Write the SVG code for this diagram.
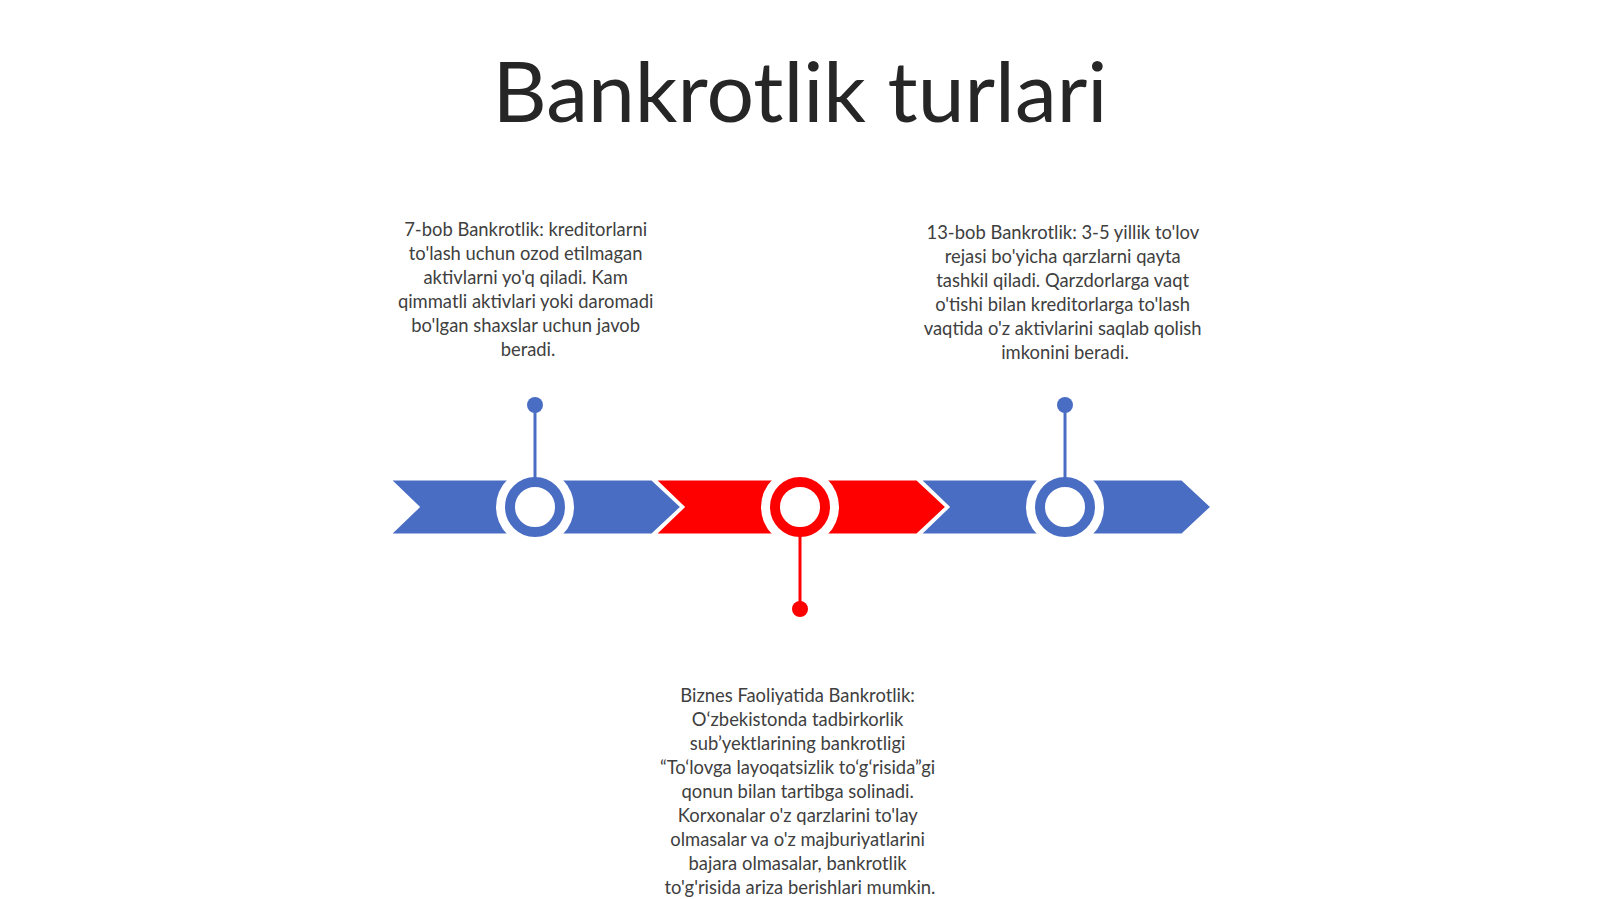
<svg xmlns="http://www.w3.org/2000/svg" width="1600" height="899" viewBox="0 0 1600 899">
<style>
.title{font-family:Lato,"Liberation Sans",sans-serif;font-size:84px;fill:#262626;text-anchor:middle}
.body{font-family:Lato,"Liberation Sans",sans-serif;font-size:18.4px;fill:#404040;text-anchor:middle}
.chev{stroke:#ffffff;stroke-width:3;stroke-linejoin:miter}
.blue{fill:#4A6DC4}
.red{fill:#FF0000}
.halo{fill:#ffffff}
.ringb{fill:#ffffff;stroke:#4A6DC4;stroke-width:10}
.ringr{fill:#ffffff;stroke:#FF0000;stroke-width:10}
.pinb{stroke:#4A6DC4;stroke-width:3}
.pinr{stroke:#FF0000;stroke-width:3}
</style>
<rect width="1600" height="899" fill="#ffffff"/>
<text class="title" x="800" y="122">Bankrotlik turlari</text>

<g id="chevrons">
<polygon class="chev blue" points="389,479 652,479 682,507 652,535 389,535 418,507"/>
<polygon class="chev red" points="654,479 917,479 947,507 917,535 654,535 683,507"/>
<polygon class="chev blue" points="919,479 1182,479 1212,507 1182,535 919,535 948,507"/>
</g>

<g id="node1">
<circle class="halo" cx="535" cy="507" r="39"/>
<circle class="ringb" cx="535" cy="507" r="25"/>
<text class="body" x="528">
<tspan x="528" y="236">7-bob Bankrotlik: kreditorlarni</tspan>
<tspan x="528" y="260">to'lash uchun ozod etilmagan</tspan>
<tspan x="528" y="284">aktivlarni yo'q qiladi. Kam</tspan>
<tspan x="528" y="308">qimmatli aktivlari yoki daromadi</tspan>
<tspan x="528" y="332">bo'lgan shaxslar uchun javob</tspan>
<tspan x="528" y="356">beradi.</tspan>
</text>
</g>

<g id="node2">
<circle class="halo" cx="800" cy="507" r="39"/>
<circle class="ringr" cx="800" cy="507" r="25"/>
<text class="body" x="800">
<tspan x="800" y="702">Biznes Faoliyatida Bankrotlik:</tspan>
<tspan x="800" y="726">O‘zbekistonda tadbirkorlik</tspan>
<tspan x="800" y="750">sub’yektlarining bankrotligi</tspan>
<tspan x="800" y="774">“To‘lovga layoqatsizlik to‘g‘risida”gi</tspan>
<tspan x="800" y="798">qonun bilan tartibga solinadi.</tspan>
<tspan x="800" y="822">Korxonalar o'z qarzlarini to'lay</tspan>
<tspan x="800" y="846">olmasalar va o'z majburiyatlarini</tspan>
<tspan x="800" y="870">bajara olmasalar, bankrotlik</tspan>
<tspan x="800" y="894">to'g'risida ariza berishlari mumkin.</tspan>
</text>
</g>

<g id="node3">
<circle class="halo" cx="1065" cy="507" r="39"/>
<circle class="ringb" cx="1065" cy="507" r="25"/>
<text class="body" x="1065">
<tspan x="1065" y="239">13-bob Bankrotlik: 3-5 yillik to'lov</tspan>
<tspan x="1065" y="263">rejasi bo'yicha qarzlarni qayta</tspan>
<tspan x="1065" y="287">tashkil qiladi. Qarzdorlarga vaqt</tspan>
<tspan x="1065" y="311">o'tishi bilan kreditorlarga to'lash</tspan>
<tspan x="1065" y="335">vaqtida o'z aktivlarini saqlab qolish</tspan>
<tspan x="1065" y="359">imkonini beradi.</tspan>
</text>
</g>

<g id="connectors">
<line class="pinb" x1="535" y1="405" x2="535" y2="478"/>
<circle cx="535" cy="405" r="8" fill="#4A6DC4"/>
<line class="pinr" x1="800" y1="536" x2="800" y2="609"/>
<circle cx="800" cy="609" r="8" fill="#FF0000"/>
<line class="pinb" x1="1065" y1="405" x2="1065" y2="478"/>
<circle cx="1065" cy="405" r="8" fill="#4A6DC4"/>
</g>
</svg>
